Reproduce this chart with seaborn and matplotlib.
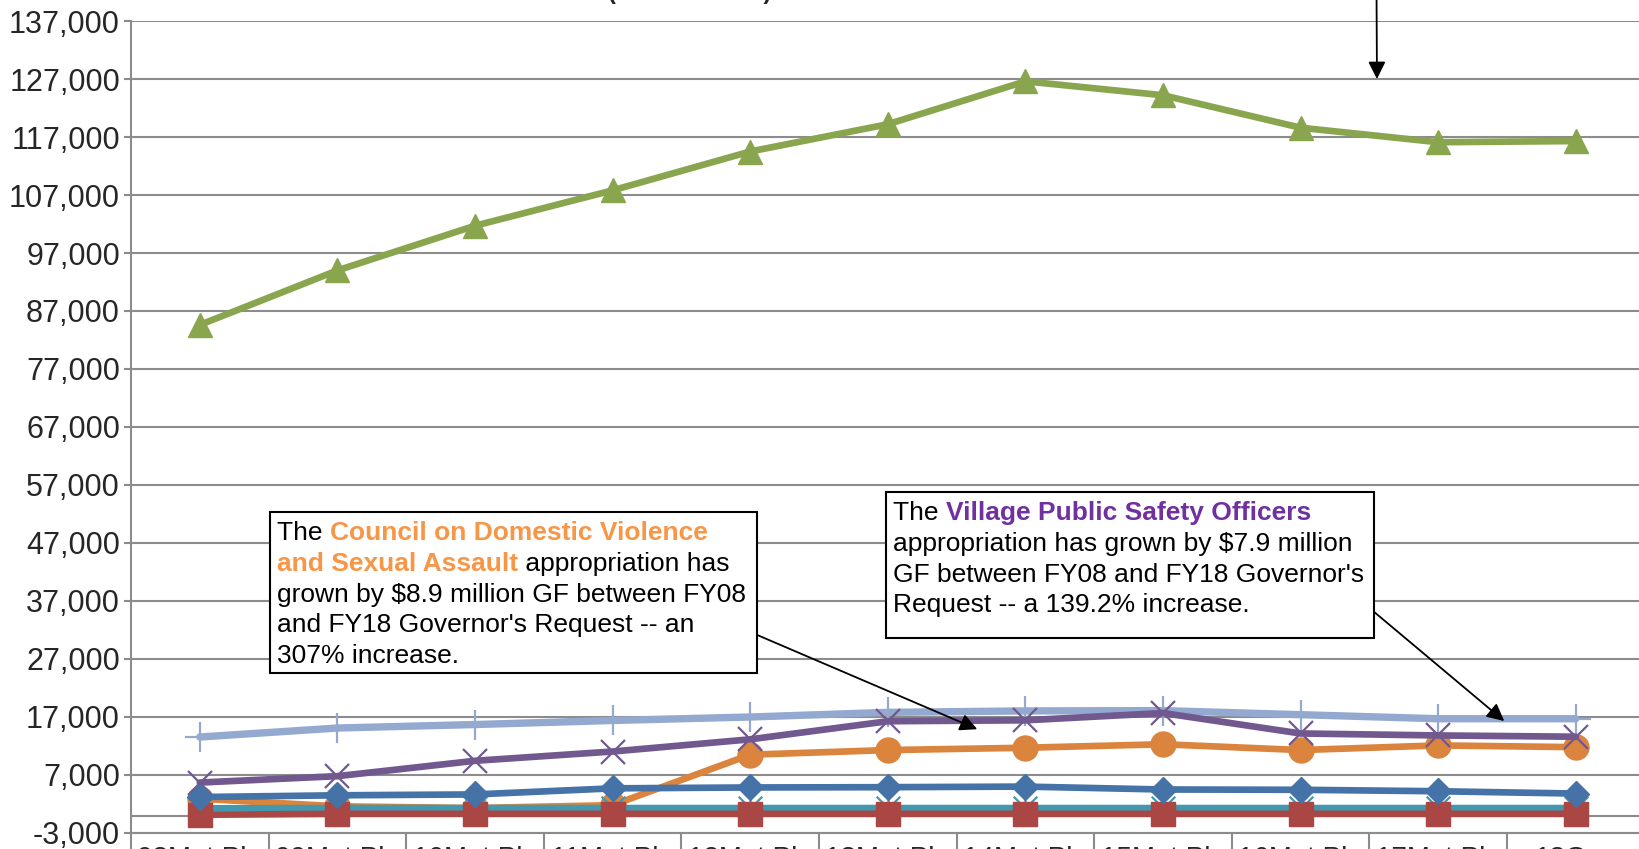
import numpy as np
import matplotlib
matplotlib.use('Agg')
import matplotlib.pyplot as plt
from matplotlib.path import Path
from matplotlib.patches import Rectangle
import seaborn as sns

# donnees (milliers de $)
categories = ['08Mgt Pln', '09Mgt Pln', '10Mgt Pln', '11Mgt Pln', '12Mgt Pln', '13Mgt Pln',
              '14Mgt Pln', '15Mgt Pln', '16Mgt Pln', '17Mgt Pln', '18Gov']
blue_vals = [3200, 3500, 3650, 4700, 4850, 4900, 5000, 4500, 4450, 4200, 3800]
red_vals = [150, 300, 300, 300, 300, 300, 300, 300, 300, 300, 300]
green_vals = [84600, 94000, 101700, 107800, 114500, 119200, 126600, 124200, 118600, 116100, 116300]
purple_vals = [5700, 6800, 9450, 11050, 13150, 16270, 16430, 17680, 14160, 13820, 13600]
teal_vals = [1250, 1300, 1300, 1300, 1300, 1300, 1300, 1300, 1300, 1300, 1300]
orange_vals = [2900, 1600, 1300, 1800, 10500, 11300, 11700, 12300, 11300, 12100, 11800]
lightblue_vals = [13550, 15100, 15700, 16400, 17000, 17800, 18050, 18100, 17400, 16700, 16700]

sns.set_style('white')
plt.rcParams['font.family'] = ['Liberation Sans', 'DejaVu Sans']

W, H = 1639, 849
fig = plt.figure(figsize=(W / 100, H / 100), dpi=100)
ax = fig.add_axes([131 / W, 1 - 833 / H, (1644.6 - 131) / W, (833 - 21) / H])

x = np.arange(len(categories))
asterisk = Path([(-0.5, -0.5), (0.5, 0.5), (-0.5, 0.5), (0.5, -0.5), (0, -0.5), (0, 0.5)],
                [Path.MOVETO, Path.LINETO] * 3)

# premiere serie dessinee au-dessus (comme Excel)
series = [
    (blue_vals, '#4572A7', 'D', 13, 1.0, 4.8, 10),
    (red_vals, '#AA4643', 's', 17, 1.0, 4.8, 9),
    (green_vals, '#89A54E', '^', 17, 1.0, 4.8, 8),
    (purple_vals, '#71588F', 'x', 17, 1.6, 4.8, 7),
    (teal_vals, '#4198AF', asterisk, 17, 1.6, 4.8, 6),
    (orange_vals, '#DB843D', 'o', 18, 1.0, 4.8, 5),
    (lightblue_vals, '#93A9D0', '+', 21, 1.6, 5.3, 4),
]
for vals, col, mk, ms, mew, lw, z in series:
    sns.lineplot(x=x, y=vals, ax=ax, color=col, linewidth=lw, marker=mk, markersize=ms,
                 markeredgecolor=col, markerfacecolor=col, markeredgewidth=mew,
                 zorder=z, legend=False)
    ln = ax.lines[-1]
    ln.set_linewidth(lw)
    ln.set_markeredgewidth(mew)
    ln.set_solid_joinstyle('round')

grid_col = '#8c8c8c'
ax.set_xlim(-0.5, 10.5)
ax.set_ylim(-3000, 137000)
yt = list(range(-3000, 137001, 10000))
ax.set_yticks(yt)
ax.set_yticklabels([f'{v:,}' for v in yt])
ax.yaxis.grid(True, color=grid_col, lw=1.5)
ax.set_axisbelow(True)
ax.axhline(0, color=grid_col, lw=1.5, zorder=1)
for s in ['top', 'right']:
    ax.spines[s].set_visible(False)
for s in ['left', 'bottom']:
    ax.spines[s].set_color(grid_col)
    ax.spines[s].set_linewidth(1.5)

ax.set_xticks(x)
ax.set_xticklabels(categories)
ax.set_xticks(np.arange(-0.5, 11, 1), minor=True)
ax.tick_params(axis='x', which='both', bottom=True)
ax.tick_params(axis='y', which='both', left=True)
ax.tick_params(axis='x', which='major', length=0, pad=9.5, labelsize=20)
ax.tick_params(axis='x', which='minor', length=20, width=1.5, color=grid_col, direction='out')
ax.tick_params(axis='y', length=5, width=1.5, color=grid_col, direction='out', labelsize=22, pad=3)
ax.set_xlabel('')
ax.set_ylabel('')

# titre coupe en haut
fig.text(690 / W, 1 + 1.5 / H, '(in thousands)', ha='center', va='baseline', fontsize=17,
         fontweight='bold')

# fleches
arrow = dict(arrowstyle='-|>', color='black', lw=1.3, mutation_scale=26, shrinkA=0, shrinkB=0)
ax.annotate('', xy=(5.65, 14900), xytext=(4.05, 31150), arrowprops=arrow, zorder=20)
ax.annotate('', xy=(9.48, 16300), xytext=(8.52, 35400), arrowprops=arrow, zorder=20)
ax.annotate('', xy=(8.555, 127000), xytext=(8.55, 150000), arrowprops=arrow,
            annotation_clip=False, zorder=20)

# boites de texte
renderer = fig.canvas.get_renderer()
fs = 19


def box(x0, y0, x1, y1):
    r = Rectangle((x0 / W, 1 - y1 / H), (x1 - x0) / W, (y1 - y0) / H, transform=fig.transFigure,
                  facecolor='white', edgecolor='black', lw=1.5, zorder=30)
    fig.add_artist(r)


def line(px, py, parts):
    cur = px
    for txt, col, wt in parts:
        fig.text(cur / W, 1 - py / H, txt, color=col, fontweight=wt, fontsize=fs,
                 va='baseline', ha='left', zorder=31)
        t = fig.text(0, 0, txt + '|', fontweight=wt, fontsize=fs)
        w1 = t.get_window_extent(renderer).width
        t.set_text('|')
        w2 = t.get_window_extent(renderer).width
        t.remove()
        cur += w1 - w2


orange_txt = '#F79646'
purple_txt = '#7030A0'
box(270, 512, 757, 673)
line(277, 540, [('The ', 'black', 'normal'), ('Council on Domestic Violence', orange_txt, 'bold')])
line(277, 571, [('and Sexual Assault', orange_txt, 'bold'), (' appropriation has', 'black', 'normal')])
line(277, 602, [('grown by $8.9 million GF between FY08', 'black', 'normal')])
line(277, 632, [("and FY18 Governor's Request -- an", 'black', 'normal')])
line(277, 663, [('307% increase.', 'black', 'normal')])

box(886, 492, 1374, 638)
line(893, 520, [('The ', 'black', 'normal'), ('Village Public Safety Officers', purple_txt, 'bold')])
line(893, 551, [('appropriation has grown by $7.9 million', 'black', 'normal')])
line(893, 582, [("GF between FY08 and FY18 Governor's", 'black', 'normal')])
line(893, 612, [('Request -- a 139.2% increase.', 'black', 'normal')])

fig.savefig('out.png', dpi=100)
